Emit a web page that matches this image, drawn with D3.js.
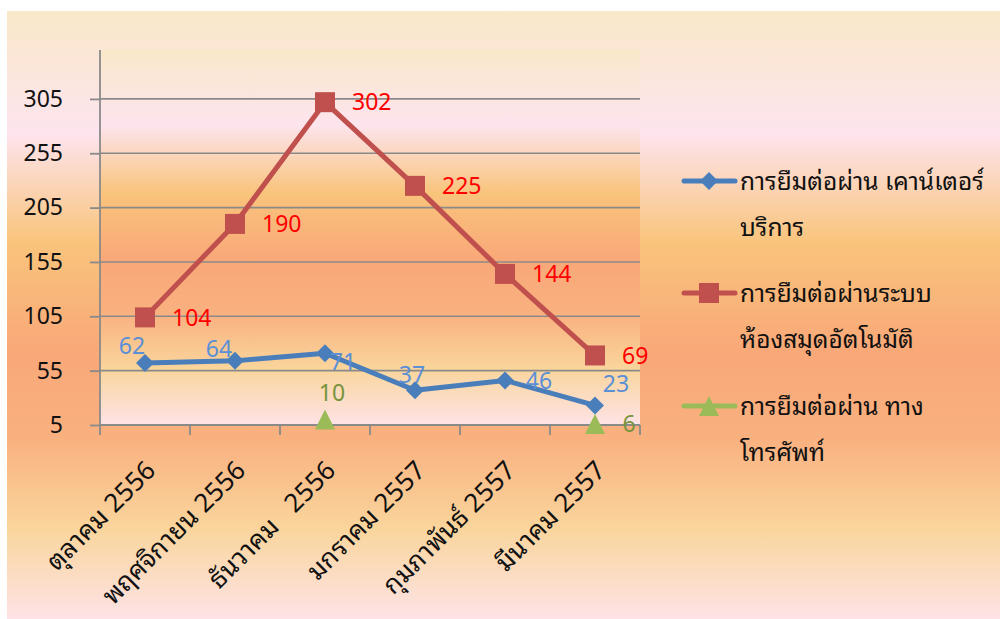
<!DOCTYPE html>
<html><head><meta charset="utf-8">
<script src="https://cdn.jsdelivr.net/npm/d3@7"></script>
<style>
html,body{margin:0;padding:0;background:#fff;}
text{font-family:"Noto Sans Thai Looped","Noto Sans","Noto Sans Thai","DejaVu Sans",sans-serif;}
</style></head>
<body><svg id="c" width="1000" height="619"></svg>
<script>
const categories = ["ตุลาคม 2556","พฤศจิกายน 2556","ธันวาคม   2556","มกราคม 2557","กุมภาพันธ์ 2557","มีนาคม 2557"];
const counterValues = [62,64,71,37,46,23];
const autoValues = [104,190,302,225,144,69];
const phoneValues = [null,null,10,null,null,6];
const yTicks = [5,55,105,155,205,255,305];
const seriesNames = [["การยืมต่อผ่าน เคาน์เตอร์","บริการ"],["การยืมต่อผ่านระบบ","ห้องสมุดอัตโนมัติ"],["การยืมต่อผ่าน ทาง","โทรศัพท์"]];

const svg = d3.select("#c");
const defs = svg.append("defs");
function grad(id){
  const g = defs.append("linearGradient").attr("id",id).attr("x1",0).attr("y1",0).attr("x2",0).attr("y2",1);
  [[0,"#fae8c9"],[0.2,"#fde4ee"],[0.38,"#f9c47c"],[0.56,"#f9a878"],[0.7,"#f9b07f"],[0.85,"#fad59c"],[1,"#fde3e6"]]
    .forEach(([o,c])=>g.append("stop").attr("offset",o).attr("stop-color",c));
}
grad("bg"); grad("pa");
svg.append("rect").attr("x",7).attr("y",11).attr("width",993).attr("height",608).attr("fill","url(#bg)");

const x = d3.scaleBand().domain(categories).range([100,640]);
const y = d3.scaleLinear().domain([5,350]).range([425,50]);
const cx = d => x(d)+x.bandwidth()/2;

svg.append("rect").attr("x",100).attr("y",50).attr("width",540).attr("height",375).attr("fill","url(#pa)");

// gridlines
svg.append("g").selectAll("line").data(yTicks.slice(1)).join("line")
  .attr("x1",100).attr("x2",640).attr("y1",d=>y(d)).attr("y2",d=>y(d))
  .attr("stroke","#8a8a8a").attr("stroke-width",1.6);

// y axis
const ya = svg.append("g").attr("transform","translate(100,0)")
  .call(d3.axisLeft(y).tickValues(yTicks).tickSize(10).tickPadding(27));
ya.select(".domain").attr("stroke","#8a8a8a").attr("stroke-width",1.8).attr("d","M0,50V425");
ya.selectAll(".tick line").attr("stroke","#8a8a8a").attr("stroke-width",1.8);
ya.selectAll(".tick text").attr("font-size",23).attr("fill","#111").attr("font-family","'Noto Sans',sans-serif");

// x axis
const xa = svg.append("g").attr("transform","translate(0,425)");
xa.append("line").attr("x1",100).attr("x2",640).attr("stroke","#8a8a8a").attr("stroke-width",1.8);
const bounds = categories.map(c=>x(c)).concat([640]);
xa.selectAll("line.t").data(bounds).join("line").attr("class","t")
  .attr("x1",d=>d).attr("x2",d=>d).attr("y1",0).attr("y2",10).attr("stroke","#8a8a8a").attr("stroke-width",1.8);
xa.selectAll("text").data(categories).join("text")
  .attr("transform",d=>`translate(${cx(d)+12},${47}) rotate(-45)`)
  .attr("text-anchor","end").attr("font-size",26).attr("fill","#111")
  .style("white-space","pre").text(d=>d);

const line = d3.line().defined(d=>d[1]!=null).x(d=>cx(d[0])).y(d=>y(d[1]));
function pts(vals){return categories.map((c,i)=>[c,vals[i]]);}

// series lines
svg.append("path").datum(pts(autoValues)).attr("d",line).attr("fill","none").attr("stroke","#c0504d").attr("stroke-width",5).attr("stroke-linejoin","round");
svg.append("path").datum(pts(counterValues)).attr("d",line).attr("fill","none").attr("stroke","#4a7ebb").attr("stroke-width",5).attr("stroke-linejoin","round");
svg.append("path").datum(pts(phoneValues)).attr("d",line).attr("fill","none").attr("stroke","#9bbb59").attr("stroke-width",5);

// markers
const diamond = "M0,-9L9,0L0,9L-9,0Z";
const square = "M-10,-10H10V10H-10Z";
const tri = "M0,-10L10,10H-10Z";
svg.append("g").selectAll("path").data(pts(autoValues)).join("path")
  .attr("d",square).attr("transform",d=>`translate(${cx(d[0])},${y(d[1])})`).attr("fill","#c0504d");
svg.append("g").selectAll("path").data(pts(counterValues)).join("path")
  .attr("d",diamond).attr("transform",d=>`translate(${cx(d[0])},${y(d[1])})`).attr("fill","#4a7ebb");
svg.append("g").selectAll("path").data(pts(phoneValues).filter(d=>d[1]!=null)).join("path")
  .attr("d",tri).attr("transform",d=>`translate(${cx(d[0])},${y(d[1])})`).attr("fill","#9bbb59");

// data labels
svg.append("g").selectAll("text").data(pts(autoValues)).join("text")
  .attr("x",d=>cx(d[0])+27).attr("y",d=>y(d[1])).attr("dy","0.36em")
  .attr("font-size",23).attr("fill","#ff0000").attr("font-family","'Noto Sans',sans-serif").text(d=>d[1]);
const blueOff = [[-13,-17],[-16,-12],[18,8],[-3,-15],[34,0],[21,-22]];
svg.append("g").selectAll("text").data(pts(counterValues)).join("text")
  .attr("x",(d,i)=>cx(d[0])+blueOff[i][0]).attr("y",(d,i)=>y(d[1])+blueOff[i][1]).attr("dy","0.36em")
  .attr("text-anchor","middle").attr("font-size",23).attr("fill","#5b8fd6").attr("font-family","'Noto Sans',sans-serif").text(d=>d[1]);
const greenOff = {2:[7,-27],5:[34,0]};
svg.append("g").selectAll("text").data(pts(phoneValues).map((d,i)=>[d[0],d[1],i]).filter(d=>d[1]!=null)).join("text")
  .attr("x",d=>cx(d[0])+greenOff[d[2]][0]).attr("y",d=>y(d[1])+greenOff[d[2]][1]).attr("dy","0.36em")
  .attr("text-anchor","middle").attr("font-size",23).attr("fill","#77933c").attr("font-family","'Noto Sans',sans-serif").text(d=>d[1]);

// legend
const legY = [181,293,406];
const colors = ["#4a7ebb","#c0504d","#9bbb59"];
const shapes = [diamond,square,tri];
const lg = svg.append("g");
seriesNames.forEach((nm,i)=>{
  lg.append("line").attr("x1",684).attr("x2",735).attr("y1",legY[i]).attr("y2",legY[i])
    .attr("stroke",colors[i]).attr("stroke-width",5).attr("stroke-linecap","round");
  lg.append("path").attr("d",shapes[i]).attr("transform",`translate(709,${legY[i]})`).attr("fill",colors[i]);
  nm.forEach((t,j)=>lg.append("text").attr("x",740).attr("y",legY[i]+j*46).attr("dy","0.36em")
    .attr("font-size",24.5).attr("fill","#111").text(t));
});
</script></body></html>
